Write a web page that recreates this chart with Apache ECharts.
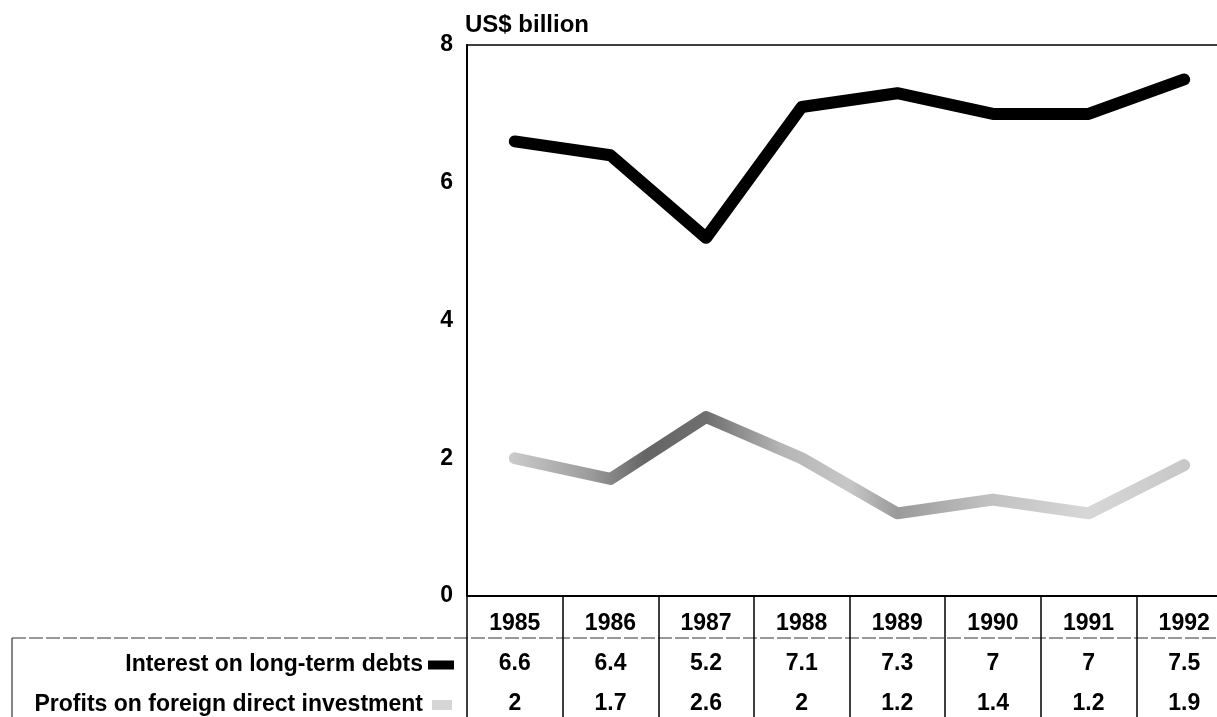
<!DOCTYPE html>
<html>
<head>
<meta charset="utf-8">
<script src="https://cdn.jsdelivr.net/npm/echarts@6/dist/echarts.min.js"></script>
<style>
html,body{margin:0;padding:0;background:#fff;}
#c{width:1217px;height:717px;}
</style>
</head>
<body>
<div id="c"></div>
<script>
var years = ['1985','1986','1987','1988','1989','1990','1991','1992'];
var interestDebts = [6.6, 6.4, 5.2, 7.1, 7.3, 7, 7, 7.5];
var profitsFDI = [2, 1.7, 2.6, 2, 1.2, 1.4, 1.2, 1.9];
var seriesNames = ['Interest on long-term debts', 'Profits on foreign direct investment'];
var yTicks = [0, 2, 4, 6, 8];
var unitLabel = 'US$ billion';

var FONT = '"Liberation Sans", Arial, sans-serif';
var chart = echarts.init(document.getElementById('c'), null, {renderer: 'canvas'});

var grayGrad = new echarts.graphic.LinearGradient(0, 0, 1, 0, [
  {offset: 0.00, color: '#c2c2c2'},
  {offset: 0.12, color: '#8a8a8a'},
  {offset: 0.20, color: '#4a4a4a'},
  {offset: 0.29, color: '#555555'},
  {offset: 0.40, color: '#a8a8a8'},
  {offset: 0.50, color: '#bdbdbd'},
  {offset: 0.57, color: '#888888'},
  {offset: 0.70, color: '#b5b5b5'},
  {offset: 0.85, color: '#d0d0d0'},
  {offset: 1.00, color: '#bdbdbd'}
]);

var txt = {fontFamily: FONT, fontSize: 23, fontWeight: 'bold', color: '#000'};

chart.setOption({
  animation: false,
  backgroundColor: '#fff',
  textStyle: {fontFamily: FONT},
  grid: {left: 467, top: 45, bottom: 121, width: 765, show: true, borderColor: '#000', borderWidth: 1.5,
    containLabel: false, outerBoundsMode: 'none'},
  legend: [
    {
      data: [{name: seriesNames[0], icon: 'rect', itemStyle: {color: '#000'}}],
      orient: 'vertical', align: 'right', right: 758, top: 646,
      itemWidth: 26, itemHeight: 9, itemGap: 0, selectedMode: false,
      textStyle: Object.assign({lineHeight: 28}, txt)
    },
    {
      data: [{name: seriesNames[1], icon: 'rect', itemStyle: {color: '#d6d6d6'}}],
      orient: 'vertical', align: 'right', right: 760, top: 686,
      itemWidth: 20, itemHeight: 10, itemGap: 0, selectedMode: false,
      textStyle: Object.assign({lineHeight: 28, padding: [0, 4, 0, 0]}, txt)
    }
  ],
  xAxis: {
    type: 'category',
    data: years,
    boundaryGap: true,
    axisLine: {lineStyle: {color: '#000', width: 2}},
    axisTick: {show: true, interval: 0, length: 130, lineStyle: {color: '#000', width: 1.5}},
    axisLabel: {
      interval: 0, margin: 8, hideOverlap: false,
      formatter: function (v, i) {
        return '{y|' + v + '}\n{v|' + interestDebts[i] + '}\n{v|' + profitsFDI[i] + '}';
      },
      rich: {
        y: Object.assign({lineHeight: 40}, txt),
        v: Object.assign({lineHeight: 40}, txt)
      }
    },
    splitLine: {show: false}
  },
  yAxis: {
    type: 'value', min: 0, max: 8, interval: 2,
    name: unitLabel, nameLocation: 'end', nameGap: 8,
    nameTextStyle: {fontFamily: FONT, fontSize: 24, fontWeight: 'bold', color: '#000', align: 'left', verticalAlign: 'bottom', padding: [0, 0, 0, -2]},
    axisLine: {show: true, lineStyle: {color: '#000', width: 2}},
    axisTick: {show: false},
    axisLabel: Object.assign({margin: 14,
      formatter: function (v) { return yTicks.indexOf(v) >= 0 ? String(v) : ''; }}, txt),
    splitLine: {show: false}
  },
  series: [
    {
      name: seriesNames[0], type: 'line', data: interestDebts,
      symbol: 'none', color: '#000',
      lineStyle: {color: '#000', width: 12, cap: 'round', join: 'round'},
      z: 3
    },
    {
      name: seriesNames[1], type: 'line', data: profitsFDI,
      symbol: 'none', color: '#bbb',
      lineStyle: {color: grayGrad, width: 12, cap: 'round', join: 'round', opacity: 0.85},
      z: 2
    }
  ],
  graphic: [
    {type: 'line', shape: {x1: 12, y1: 638, x2: 1217, y2: 638}, style: {stroke: '#333', lineWidth: 1.2, lineDash: [14, 3]}, silent: true},
    {type: 'line', shape: {x1: 12, y1: 638, x2: 12, y2: 717}, style: {stroke: '#333', lineWidth: 1.2}, silent: true}
  ]
});
</script>
</body>
</html>
